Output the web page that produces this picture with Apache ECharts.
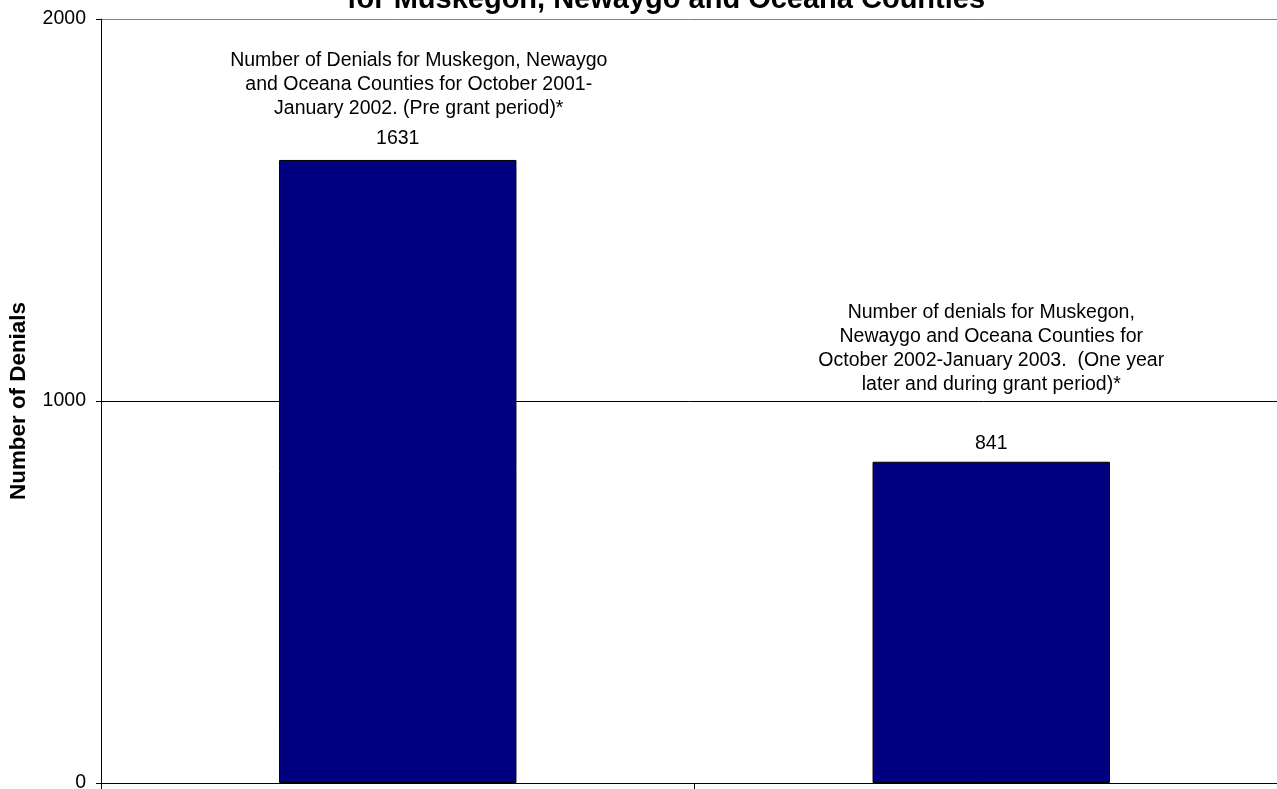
<!DOCTYPE html>
<html>
<head>
<meta charset="utf-8">
<script src="https://cdn.jsdelivr.net/npm/echarts@6/dist/echarts.min.js"></script>
<style>html,body{margin:0;padding:0;background:#fff;}#c{width:1277px;height:789px;}</style>
</head>
<body>
<div id="c"></div>
<script>
var titleText = 'for Muskegon, Newaygo and Oceana Counties';
var yAxisName = 'Number of Denials';
var categories = [
  'Number of Denials for Muskegon, Newaygo\nand Oceana Counties for October 2001-\nJanuary 2002. (Pre grant period)*',
  'Number of denials for Muskegon,\nNewaygo and Oceana Counties for\nOctober 2002-January 2003.  (One year\nlater and during grant period)*'
];
var values = [1631, 841];
var yTicks = [0, 1000, 2000];

// per-bar label layout (style only)
var annShift = [42, 0];
var spacer = [6, 35];
var labelGap = [9, 6];

var FONT = '"Liberation Sans", Arial, sans-serif';
var data = values.map(function (v, i) {
  return {
    value: v,
    label: {
      distance: labelGap[i],
      rich: {
        n: { fontSize: 19.5, lineHeight: 24, color: '#000', fontFamily: FONT, padding: [0, 0, 0, annShift[i]] },
        s: { fontSize: 2, lineHeight: spacer[i] },
        v: { fontSize: 19.5, lineHeight: 24, color: '#000', fontFamily: FONT }
      }
    }
  };
});

var chart = echarts.init(document.getElementById('c'), null, { renderer: 'canvas' });
chart.setOption({
  animation: false,
  backgroundColor: '#fff',
  title: {
    text: titleText,
    left: 666,
    textAlign: 'center',
    top: -15,
    padding: 0,
    textStyle: { fontFamily: FONT, fontWeight: 'bold', fontSize: 29, color: '#000' }
  },
  grid: { left: 101, right: -11, top: 19, bottom: 6, containLabel: false, outerBoundsMode: 'none' },
  xAxis: {
    type: 'category',
    data: categories,
    boundaryGap: true,
    axisLine: { show: true, lineStyle: { color: '#000', width: 1 } },
    axisTick: { show: true, length: 6, lineStyle: { color: '#000' } },
    axisLabel: { show: false },
    splitLine: { show: false }
  },
  yAxis: {
    type: 'value',
    min: yTicks[0],
    max: yTicks[yTicks.length - 1],
    interval: yTicks[1] - yTicks[0],
    name: yAxisName,
    nameLocation: 'middle',
    nameGap: 71,
    nameTextStyle: { fontFamily: FONT, fontWeight: 'bold', fontSize: 22.4, color: '#000' },
    axisLine: { show: true, lineStyle: { color: '#000', width: 1 } },
    axisTick: { show: true, length: 5, inside: false, lineStyle: { color: '#000' } },
    axisLabel: { fontFamily: FONT, fontSize: 19.5, color: '#000', margin: 15, formatter: function (v) { return String(v); } },
    splitLine: { show: true, lineStyle: { color: ['#000', '#000', '#808080'], width: 1 } }
  },
  series: [{
    type: 'bar',
    data: data,
    barWidth: '40%',
    itemStyle: { color: '#000080', borderColor: '#000', borderWidth: 1 },
    label: {
      show: true,
      position: 'top',
      formatter: function (p) {
        var lines = p.name.split('\n').map(function (l) { return '{n|' + l + '}'; });
        return lines.join('\n') + '\n{s| }\n{v|' + p.value + '}';
      }
    }
  }]
});
</script>
</body>
</html>
